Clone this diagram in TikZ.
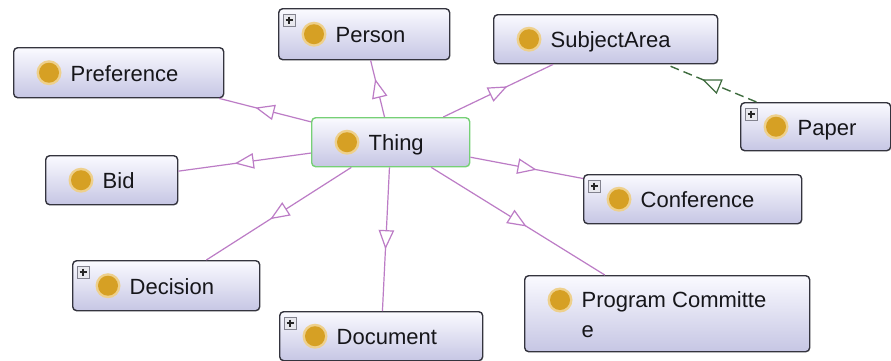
\documentclass[tikz,border=0pt]{standalone}
\usepackage{fontspec}
\setmainfont{Liberation Sans}
\usetikzlibrary{calc,decorations.markings}

\definecolor{edgecol}{RGB}{188,124,198}
\definecolor{linkcol}{RGB}{62,108,62}
\definecolor{boxline}{RGB}{52,52,62}
\definecolor{rootline}{RGB}{118,208,118}
\definecolor{boxtop}{RGB}{250,250,255}
\definecolor{boxbottom}{RGB}{198,198,228}
\definecolor{ball}{RGB}{214,160,36}
\definecolor{ballglow}{RGB}{238,208,140}
\definecolor{labeltext}{RGB}{22,22,26}
\definecolor{iconfill}{RGB}{232,232,238}
\definecolor{iconline}{RGB}{130,130,142}

\tikzset{
  clsbox/.style={draw=boxline, line width=1.4pt, rounded corners=4pt,
    top color=boxtop, bottom color=boxbottom, anchor=north west, inner sep=0pt},
  rootbox/.style={clsbox, draw=rootline},
  lbl/.style={font=\fontsize{22}{30}\selectfont, text=labeltext, inner sep=0pt},
  isa/.style={draw=edgecol, line width=1.2pt,
    decoration={markings, mark=at position 0.5 with
      {\draw[edgecol, fill=white, line width=1.2pt, solid, line join=miter]
        (8.5pt,0pt) -- (-8.5pt,7pt) -- (-8.5pt,-7pt) -- cycle;}},
    postaction=decorate},
  seealso/.style={draw=linkcol, line width=1.4pt, dash pattern=on 9pt off 5pt,
    decoration={markings, mark=at position 0.5 with
      {\draw[linkcol, fill=white, line width=1.2pt, solid, line join=miter]
        (8.5pt,0pt) -- (-8.5pt,7pt) -- (-8.5pt,-7pt) -- cycle;}},
    postaction=decorate},
  iconframe/.style={draw=iconline, fill=iconfill, line width=0.8pt},
  iconmark/.style={draw=black!85, line width=1.3pt},
}

% class bullet and its name
\newcommand\classlabel[2]{%
  \fill[ballglow] ($(#1.west)+(36,0)$) circle (12.5);
  \fill[ball] ($(#1.west)+(36,0)$) circle (10);
  \node[lbl, anchor=base west] at ($(#1.west)+(57.5,8.5)$) {#2};
}
% expand button in the upper left corner
\newcommand\expandicon[1]{%
  \draw[iconframe] ($(#1.north west)+(5,6)$) rectangle +(12,12);
  \draw[iconmark] ($(#1.north west)+(11,8.5)$) -- +(0,7);
  \draw[iconmark] ($(#1.north west)+(7.5,12)$) -- +(7,0);
}

\begin{document}
\begin{tikzpicture}[x=1pt, y=-1pt]
  \fill[white] (0,0) rectangle (891,360);
  \useasboundingbox (0,0) rectangle (891,360);

  % class boxes
  \node[clsbox, minimum width=210, minimum height=50] (preference) at (13,47) {};
  \node[clsbox, minimum width=171, minimum height=51] (person) at (278,8) {};
  \node[clsbox, minimum width=224, minimum height=49] (subject) at (493,14) {};
  \node[rootbox, minimum width=158, minimum height=49] (thing) at (311,117) {};
  \node[clsbox, minimum width=150, minimum height=48] (paper) at (740,102) {};
  \node[clsbox, minimum width=132, minimum height=49] (bid) at (45,155) {};
  \node[clsbox, minimum width=218, minimum height=49] (conference) at (583,174) {};
  \node[clsbox, minimum width=187, minimum height=50] (decision) at (72,260) {};
  \node[clsbox, minimum width=203, minimum height=49] (document) at (279,311) {};
  \node[clsbox, minimum width=285, minimum height=76] (committee) at (524,275) {};

  \classlabel{preference}{Preference}
  \classlabel{person}{Person}
  \classlabel{subject}{SubjectArea}
  \classlabel{thing}{Thing}
  \classlabel{paper}{Paper}
  \classlabel{bid}{Bid}
  \classlabel{conference}{Conference}
  \classlabel{decision}{Decision}
  \classlabel{document}{Document}

  % two-line label
  \fill[ballglow] ($(committee.north west)+(36,25)$) circle (12.5);
  \fill[ball] ($(committee.north west)+(36,25)$) circle (10);
  \node[lbl, anchor=north west, align=left] (committeetext)
    at ($(committee.north west)+(57.5,16)$) {Program Committe\\e};

  \expandicon{person}
  \expandicon{paper}
  \expandicon{conference}
  \expandicon{decision}
  \expandicon{document}

  % subclass edges
  \draw[isa] (thing) -- (preference);
  \draw[isa] (thing) -- (person);
  \draw[isa] (thing) -- (subject);
  \draw[isa] (thing) -- (bid);
  \draw[isa] (thing) -- (conference);
  \draw[isa] (thing) -- (decision);
  \draw[isa] (thing) -- (document);
  \draw[isa] (thing) -- (committee);

  % dashed link
  \draw[seealso] (paper) -- (subject);
\end{tikzpicture}
\end{document}
